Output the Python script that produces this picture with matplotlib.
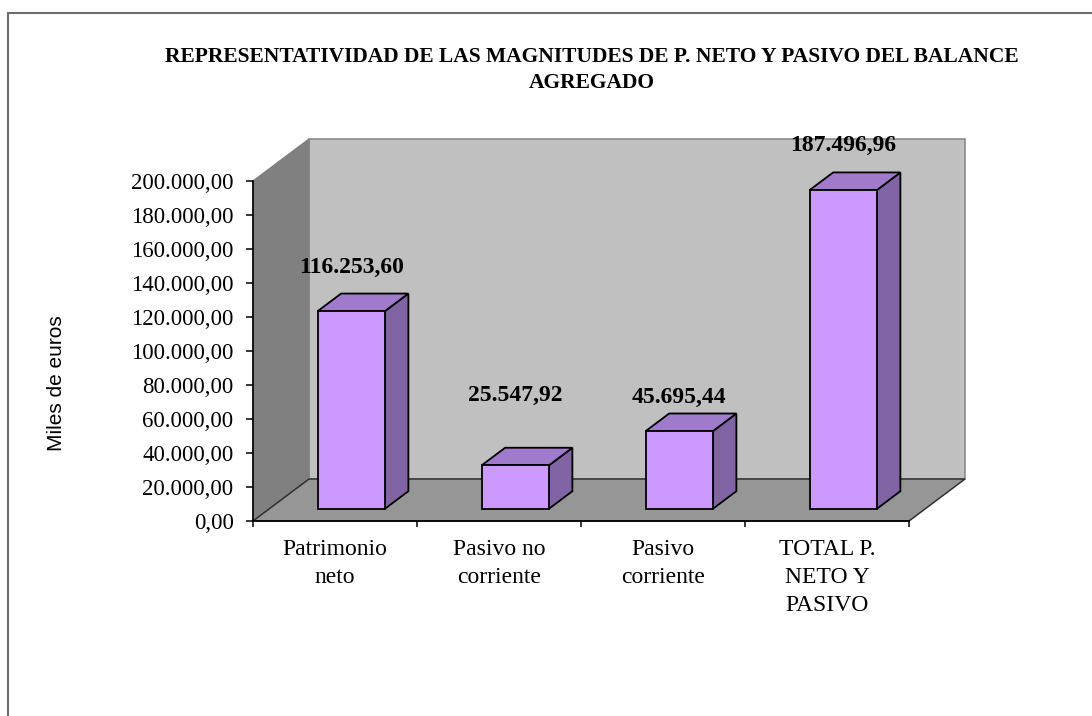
import matplotlib
matplotlib.use("Agg")
import matplotlib.pyplot as plt
from matplotlib.patches import Polygon, Rectangle
from matplotlib.ticker import FixedLocator, FuncFormatter

# data
categories = ["Patrimonio\nneto", "Pasivo no\ncorriente", "Pasivo\ncorriente", "TOTAL P.\nNETO Y\nPASIVO"]
values = [116253.60, 25547.92, 45695.44, 187496.96]
yticks = list(range(0, 200001, 20000))
title = "REPRESENTATIVIDAD DE LAS MAGNITUDES DE P. NETO Y PASIVO DEL BALANCE\nAGREGADO"
ylabel = "Miles de euros"
# vertical gap between bar top and its value label (value units), as in Excel 3D layout
label_gap = [33000, 48500, 26700, 33700]


def es_fmt(v, pos=None):
    s = f"{v:,.2f}"
    return s.replace(",", "X").replace(".", ",").replace("X", ".")


W, H = 1092, 716
fig = plt.figure(figsize=(W / 100, H / 100), dpi=100)

# outer frame (runs off the right and bottom edges of the picture)
fig.patches.append(Rectangle((8 / W, -0.1), 2, 1.1 - 13 / H, transform=fig.transFigure,
                             fill=False, edgecolor="#6e6e6e", linewidth=1.5))

# front plane of the 3D box
x0, x1, yb, yt = 253, 909, 521, 181
ax = fig.add_axes([x0 / W, (H - yb) / H, (x1 - x0) / W, (yb - yt) / H])
ax.set_xlim(0, len(categories))
ax.set_ylim(0, 200000)
ax.patch.set_visible(False)

px_x = (x1 - x0) / len(categories)
px_y = (yb - yt) / 200000
dx = 56 / px_x          # depth shift in category units
dy = 42 / px_y          # depth shift in value units
ymax = 200000
n = len(categories)

side_wall = Polygon([(0, 0), (0, ymax), (dx, ymax + dy), (dx, dy)], closed=True,
                    facecolor="#808080", edgecolor="#808080", lw=1, clip_on=False, zorder=1)
back_wall = Polygon([(dx, dy), (n + dx, dy), (n + dx, ymax + dy), (dx, ymax + dy)], closed=True,
                    facecolor="#c0c0c0", edgecolor="#8a8a8a", lw=1.2, clip_on=False, zorder=1)
floor = Polygon([(0, 0), (n, 0), (n + dx, dy), (dx, dy)], closed=True,
                facecolor="#969696", edgecolor="#303030", lw=1.1, clip_on=False, zorder=1.1)
for p in (back_wall, side_wall, floor):
    ax.add_patch(p)

# bars
t0, t1 = 0.29, 0.71
bw = 0.41
front_c, top_c, side_c = "#cc99ff", "#a07acb", "#8064a4"
for i, v in enumerate(values):
    xl = i + 0.5 - bw / 2 + t0 * dx
    xr = xl + bw
    yb0 = t0 * dy
    ddx = (t1 - t0) * dx
    ddy = (t1 - t0) * dy
    side = Polygon([(xr, yb0), (xr + ddx, yb0 + ddy), (xr + ddx, yb0 + v + ddy), (xr, yb0 + v)],
                   closed=True, facecolor=side_c, edgecolor="black", lw=1.3, clip_on=False, zorder=3)
    top = Polygon([(xl, yb0 + v), (xr, yb0 + v), (xr + ddx, yb0 + v + ddy), (xl + ddx, yb0 + v + ddy)],
                  closed=True, facecolor=top_c, edgecolor="black", lw=1.3, clip_on=False, zorder=3)
    front = Rectangle((xl, yb0), bw, v, facecolor=front_c, edgecolor="black", lw=1.3,
                      clip_on=False, zorder=3)
    ax.add_patch(side)
    ax.add_patch(top)
    ax.add_patch(front)
    ax.text((xl + xr) / 2, v + label_gap[i], es_fmt(v), ha="center", va="center",
            family="Liberation Serif", fontweight="bold", fontsize=17, clip_on=False, zorder=4)

# axes styling
for s in ("top", "right"):
    ax.spines[s].set_visible(False)
ax.spines["left"].set_linewidth(1.2)
ax.spines["bottom"].set_linewidth(1.2)
ax.spines["left"].set_zorder(2)
ax.spines["bottom"].set_zorder(2)

ax.yaxis.set_major_locator(FixedLocator(yticks))
ax.yaxis.set_major_formatter(FuncFormatter(es_fmt))
ax.tick_params(axis="y", direction="out", length=5, width=1.1, pad=9,
               labelsize=16.5, labelfontfamily="Liberation Serif")

ax.xaxis.set_major_locator(FixedLocator(range(n + 1)))
ax.xaxis.set_major_formatter(FuncFormatter(lambda v, p: ""))
ax.xaxis.set_minor_locator(FixedLocator([i + 0.5 for i in range(n)]))
cat_labels = ax.set_xticklabels(categories, minor=True)
for lab in cat_labels:
    lab.set_linespacing(1.45)
ax.tick_params(axis="x", which="major", direction="out", length=4.5, width=1.1)
ax.tick_params(axis="x", which="minor", length=0, pad=13,
               labelsize=17, labelfontfamily="Liberation Serif")

fig.text(56 / W, 1 - 383 / H, ylabel, rotation=90, ha="center", va="center",
         family="Liberation Sans", fontsize=15)
fig.text(592 / W, 1 - 70 / H, title, ha="center", va="center", family="Liberation Serif",
         fontweight="bold", fontsize=15.5, linespacing=1.4)

fig.savefig("out.png", dpi=100)
